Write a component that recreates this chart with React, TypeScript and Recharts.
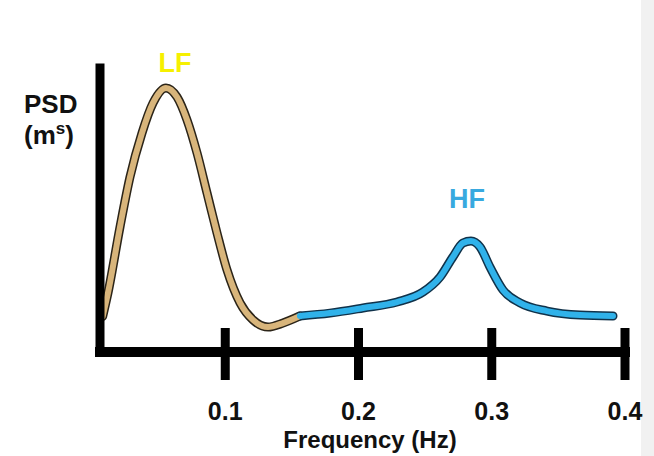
import { LineChart, Line, XAxis, YAxis } from 'recharts';

// LF band (tan)
const lfFreq = [0.008, 0.012, 0.021, 0.0285, 0.0375, 0.0458, 0.0555, 0.0638, 0.0713, 0.0788, 0.0863, 0.0938, 0.1013, 0.1111, 0.1208, 0.1321, 0.1433, 0.1561];
const lfPsd = [12.5, 20.8, 44.0, 61.6, 77.1, 87.7, 93.0, 89.8, 81.7, 70.1, 56.0, 41.9, 28.9, 17.3, 11.3, 8.8, 10.2, 12.7];

// HF band (blue)
const hfFreq = [0.1561, 0.1786, 0.2034, 0.2289, 0.2484, 0.2612, 0.2709, 0.2784, 0.2844, 0.2912, 0.2987, 0.3085, 0.3212, 0.3415, 0.3662, 0.391];
const hfPsd = [12.7, 13.7, 15.5, 17.6, 21.1, 26.4, 33.5, 38.4, 39.1, 37.0, 29.9, 21.8, 17.3, 14.4, 13.0, 12.7];

const xTicks = [0.1, 0.2, 0.3, 0.4];

const lfData = lfFreq.map((f, i) => ({ freq: f, psd: lfPsd[i] }));
const hfData = hfFreq.map((f, i) => ({ freq: f, psd: hfPsd[i] }));

const font = '"Liberation Sans", Arial, sans-serif';

const FreqTick = (props: any) => {
  const { x, y, payload } = props;
  return (
    <g>
      <line x1={x} x2={x} y1={y - 24} y2={y + 28} stroke="#000" strokeWidth={9} />
      <text x={x} y={y + 68} textAnchor="middle" fontFamily={font} fontWeight="bold" fontSize={25} fill="#111">
        {payload.value}
      </text>
    </g>
  );
};

export default function App() {
  return (
    <div
      style={{
        position: 'absolute',
        left: 0,
        top: 0,
        width: 654,
        height: 456,
        background: 'linear-gradient(to right, #fff 0, #fff 641px, #f1f1f1 641px)',
      }}
    >
      <LineChart width={654} height={456} margin={{ top: 68, right: 29, bottom: 0, left: 40 }}>
        <XAxis
          type="number"
          dataKey="freq"
          domain={[0.006, 0.4]}
          ticks={xTicks}
          allowDataOverflow
          height={104}
          tickSize={0}
          tickMargin={0}
          tickLine={false}
          tick={<FreqTick />}
          axisLine={{ stroke: '#000', strokeWidth: 10, strokeLinecap: 'square' }}
        />
        <YAxis
          type="number"
          domain={[0, 100]}
          width={60}
          tick={false}
          tickLine={false}
          axisLine={{ stroke: '#000', strokeWidth: 9, strokeLinecap: 'square' }}
        />
        {/* dark outline under each band */}
        <Line data={lfData} dataKey="psd" type="monotone" stroke="#2b2418" strokeWidth={9} strokeLinecap="round" dot={false} isAnimationActive={false} />
        <Line data={hfData} dataKey="psd" type="monotone" stroke="#10324a" strokeWidth={9} strokeLinecap="round" dot={false} isAnimationActive={false} />
        <Line data={lfData} dataKey="psd" type="monotone" stroke="#d8b57b" strokeWidth={6} strokeLinecap="round" dot={false} isAnimationActive={false} />
        <Line data={hfData} dataKey="psd" type="monotone" stroke="#30b2ea" strokeWidth={6} strokeLinecap="round" dot={false} isAnimationActive={false} />

        <text x={175} y={72} textAnchor="middle" fontFamily={font} fontWeight="bold" fontSize={27} fill="#f6f000">LF</text>
        <text x={467} y={208} textAnchor="middle" fontFamily={font} fontWeight="bold" fontSize={27} fill="#38a9df">HF</text>
        <text x={24} y={113} fontFamily={font} fontWeight="bold" fontSize={26} fill="#111">PSD</text>
        <text x={24} y={144} fontFamily={font} fontWeight="bold" fontSize={26} fill="#111">
          <tspan>(m</tspan>
          <tspan fontSize={17} dy={-10}>s</tspan>
          <tspan dy={10}>)</tspan>
        </text>
        <text x={370} y={448} textAnchor="middle" fontFamily={font} fontWeight="bold" fontSize={24} fill="#111">Frequency (Hz)</text>
      </LineChart>
    </div>
  );
}
